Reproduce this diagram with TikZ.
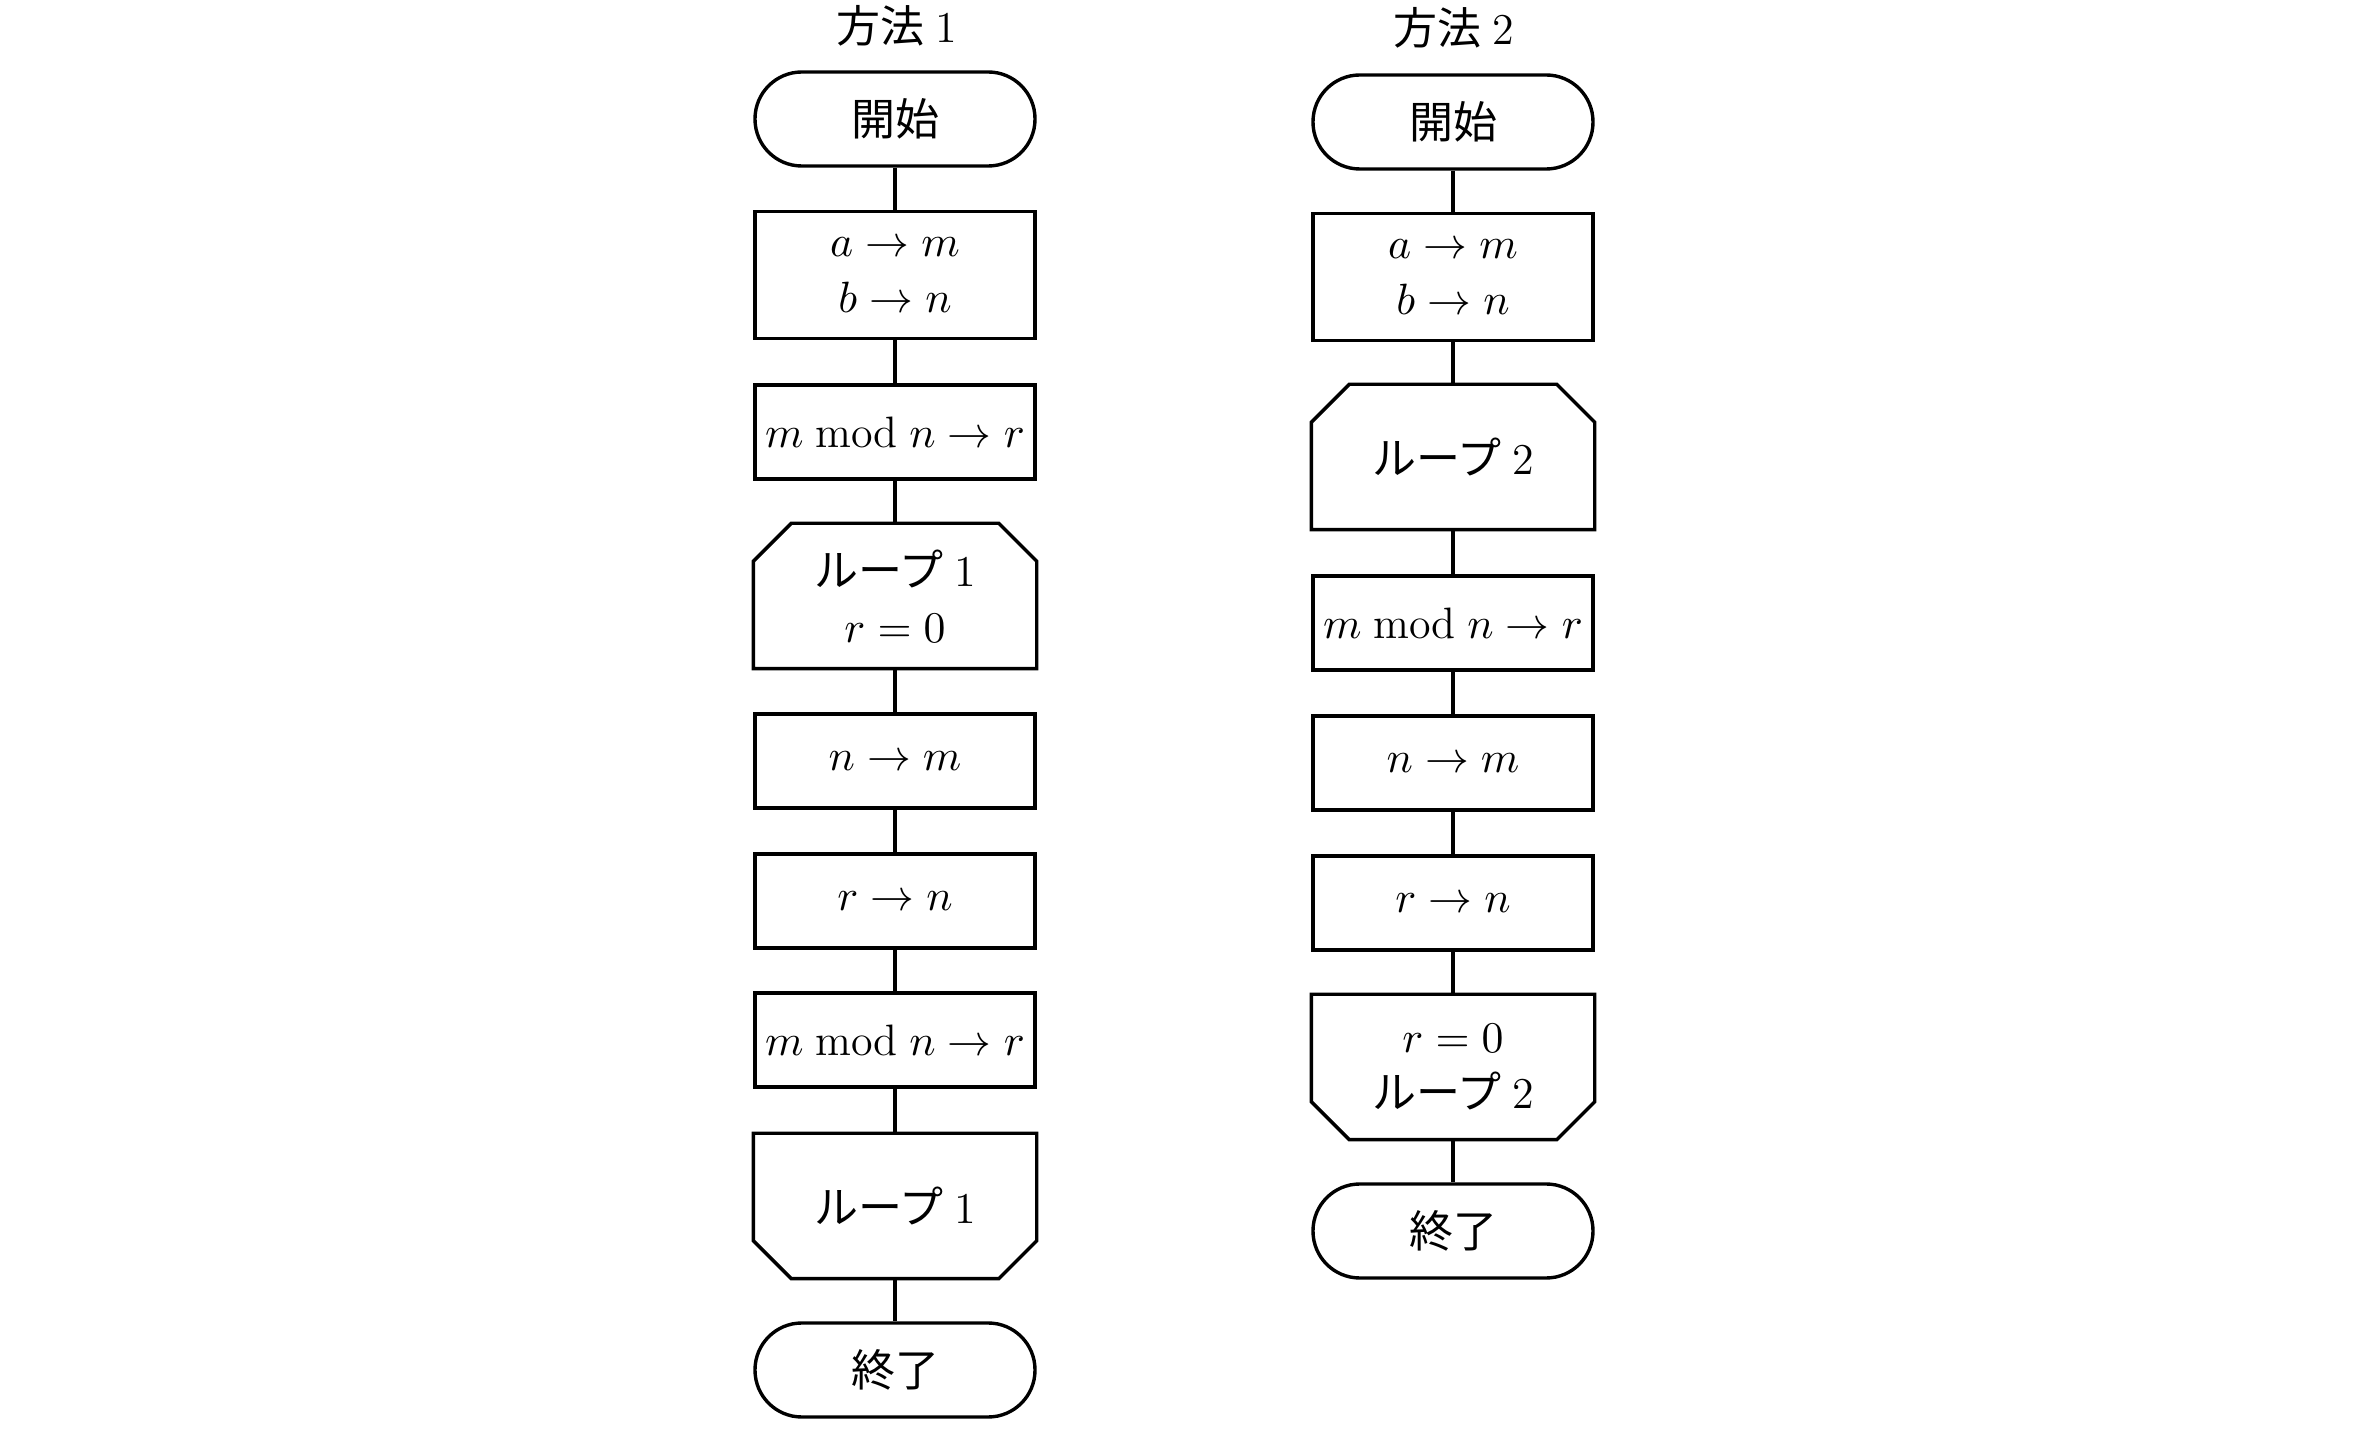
\documentclass[tikz,border=0pt]{standalone}
\usepackage{fontspec}
\newfontfamily\jp{Noto Sans CJK JP}
\newcommand{\lp}[1]{{\jp ループ}\hspace{0.25em}#1}
\begin{document}
\begin{tikzpicture}[x=0.25pt,y=-0.25pt, line width=0.85pt,
  every node/.style={font=\fontsize{11}{14}\selectfont, align=center, inner sep=0pt},
  term/.style={draw, rounded corners=11.7pt, minimum width=70pt, minimum height=23.5pt},
  proc/.style={draw, minimum width=70pt, minimum height=23.5pt},
  proctall/.style={draw, minimum width=70pt, minimum height=31.75pt},
  loopbox/.style={minimum width=70pt, minimum height=35.5pt},
  outline/.style={line width=0.85pt, line join=miter}]
\useasboundingbox (0,0) rectangle (2360,1454);

% ---------- Method 1 ----------
\node (t1) at (897,26) {{\jp 方法}\hspace{0.25em}1};
\node[term] (s1) at (895,119) {\jp 開始};
\node[proctall] (i1) at (895,275) {$a \to m$\\ $b \to n$};
\node[proc] (m1) at (895,432) {$m \bmod n \to r$};
\node[loopbox] (lo1) at (895,596) {\lp{1}\\ $r = 0$};
\node[proc] (nm1) at (895,761) {$n \to m$};
\node[proc] (rn1) at (895,901) {$r \to n$};
\node[proc] (mm1) at (895,1040) {$m \bmod n \to r$};
\node[loopbox] (lc1) at (895,1206) {\lp{1}};
\node[term] (e1) at (895,1370) {\jp 終了};

% ---------- Method 2 ----------
\node (t2) at (1454,28) {{\jp 方法}\hspace{0.25em}2};
\node[term] (s2) at (1453,122) {\jp 開始};
\node[proctall] (i2) at (1453,277) {$a \to m$\\ $b \to n$};
\node[loopbox] (lo2) at (1453,457) {\lp{2}};
\node[proc] (m2) at (1453,623) {$m \bmod n \to r$};
\node[proc] (nm2) at (1453,763) {$n \to m$};
\node[proc] (rn2) at (1453,903) {$r \to n$};
\node[loopbox] (lc2) at (1453,1067) {$r = 0$\\ \lp{2}};
\node[term] (e2) at (1453,1231) {\jp 終了};

% loop outlines (open: top corners cut, close: bottom corners cut)
\foreach \n in {lo1,lo2}{
  \draw[outline] (\n.south west) -- ([yshift=-9.5pt]\n.north west) -- ([xshift=9.5pt]\n.north west)
    -- ([xshift=-9.5pt]\n.north east) -- ([yshift=-9.5pt]\n.north east) -- (\n.south east) -- cycle;
}
\foreach \n in {lc1,lc2}{
  \draw[outline] (\n.north west) -- ([yshift=9.5pt]\n.south west) -- ([xshift=9.5pt]\n.south west)
    -- ([xshift=-9.5pt]\n.south east) -- ([yshift=9.5pt]\n.south east) -- (\n.north east) -- cycle;
}

% connectors
\draw (s1) -- (i1);
\draw (i1) -- (m1);
\draw (m1) -- (lo1);
\draw (lo1) -- (nm1);
\draw (nm1) -- (rn1);
\draw (rn1) -- (mm1);
\draw (mm1) -- (lc1);
\draw (lc1) -- (e1);

\draw (s2) -- (i2);
\draw (i2) -- (lo2);
\draw (lo2) -- (m2);
\draw (m2) -- (nm2);
\draw (nm2) -- (rn2);
\draw (rn2) -- (lc2);
\draw (lc2) -- (e2);
\end{tikzpicture}
\end{document}
